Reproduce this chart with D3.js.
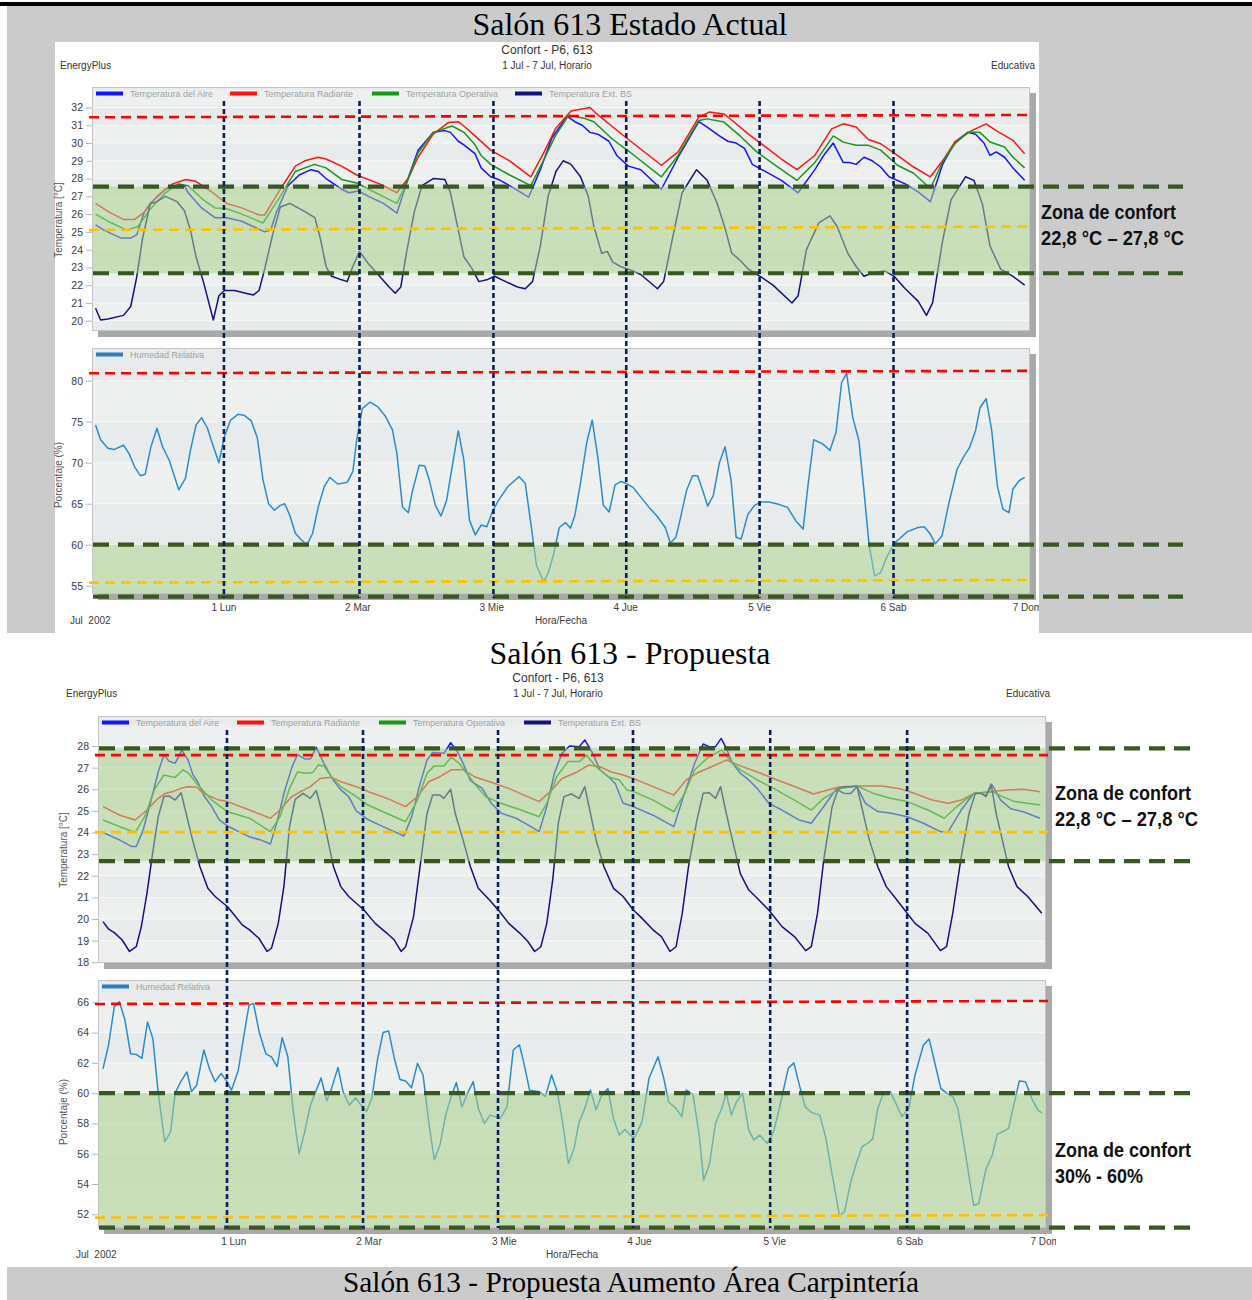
<!DOCTYPE html>
<html lang="es">
<head>
<meta charset="utf-8">
<title>Salón 613 - Confort</title>
<script src="https://cdn.jsdelivr.net/npm/d3@7/dist/d3.min.js"></script>
<style>
html,body{margin:0;padding:0;background:#fff;}
svg{display:block;}
</style>
</head>
<body>
<svg id="chart" width="1252" height="1300" xmlns="http://www.w3.org/2000/svg"></svg>
<script>
// ===================== DATA =====================
const dayLabels = ["1 Lun", "2 Mar", "3 Mie", "4 Jue", "5 Vie", "6 Sab", "7 Dom"];
const dayHours = [24, 48, 72, 96, 120, 144, 168];
const tempTicksActual = [20, 21, 22, 23, 24, 25, 26, 27, 28, 29, 30, 31, 32];
const humTicksActual = [55, 60, 65, 70, 75, 80];
const tempTicksProp = [18, 19, 20, 21, 22, 23, 24, 25, 26, 27, 28];
const humTicksProp = [52, 54, 56, 58, 60, 62, 64, 66];
const tempLegend = ["Temperatura del Aire", "Temperatura Radiante", "Temperatura Operativa", "Temperatura Ext. BS"];
const humLegend = ["Humedad Relativa"];

// hand-drawn day separators (hours)
const actualDayLines = [24, 48.3, 72.3, 96.1, 120, 144];
const propDayLines = [22.8, 46.94, 70.9, 94.85, 119.2, 143.5];

// reference lines [value at left, value at right]
const actualTempRed = [31.45, 31.58];
const actualTempYellow = [25.1, 25.3];
const actualTempComfort = [22.67, 27.55];
const actualHumRed = [80.9, 81.2];
const actualHumYellow = [55.37, 55.7];
const actualHumComfort = [53.66, 60];
const propTempRed = [27.58, 27.58];
const propTempYellow = [24.02, 24.02];
const propTempComfort = [22.68, 27.89];
const propHumRed = [65.89, 66.09];
const propHumYellow = [51.78, 51.95];
const propHumComfort = [51.12, 60];

// ---- Estado Actual: [hour, value] ----
const actualAir = [[1,25.4],[2.5,25.1],[4.5,24.8],[5.6,24.65],[7.3,24.65],[8.4,24.85],[9.7,26.1],[10.8,26.6],[13.5,27.4],[15.6,27.6],[16.9,27.6],[17.6,27.2],[20,26.35],[22.4,25.8],[24.5,25.8],[27.2,25.6],[31.3,25.0],[32.4,25.1],[33.4,26.1],[35.5,27.6],[37.5,28.2],[39.6,28.5],[40.9,28.4],[42.3,28.0],[45.1,27.4],[46.4,27.2],[48.1,27.3],[49.9,27.0],[52.6,26.6],[55,26.05],[57,28.0],[58.8,29.6],[61.5,30.6],[63.6,30.7],[64.6,30.6],[66,30.1],[67,29.9],[69,29.4],[70.1,28.6],[71.8,28.1],[73.2,27.95],[75.2,27.6],[78.6,26.95],[80.7,28.5],[82.8,30.3],[85.5,31.5],[86.9,31.2],[88.2,31.0],[89.6,30.6],[91,30.5],[93,30.1],[94.4,29.3],[96.5,28.7],[98.7,28.5],[102.4,27.4],[105.4,29.2],[109.1,31.2],[110.6,30.9],[112.8,30.4],[114.3,30.1],[115.8,30.0],[117.3,29.7],[118.7,28.8],[121,28.4],[123.9,27.9],[126.9,27.2],[129.9,28.5],[131.7,29.4],[133.2,30.0],[135,28.9],[136.1,28.9],[137.3,28.8],[138.7,29.2],[140.2,29.0],[141.7,28.65],[143.2,28.1],[146.1,27.7],[148.4,27.25],[150.6,26.7],[152.8,28.8],[155,30.05],[157.3,30.6],[158.7,30.5],[160.2,30.0],[161.3,29.3],[162.4,29.5],[163.9,29.2],[165.4,28.6],[167.5,27.9]];
const actualRad = [[1,26.6],[3.5,26.1],[6,25.7],[8,25.7],[9.7,26.1],[12,27.0],[14.8,27.7],[17.2,27.95],[18.9,27.85],[21.6,27.3],[24.5,26.6],[27.2,26.35],[30.3,25.95],[31.3,25.95],[34.1,27.4],[36.8,28.7],[38.5,29.0],[40.9,29.2],[42.3,29.1],[45.1,28.7],[47.8,28.2],[51.9,27.7],[55,27.2],[57,28.0],[58.8,29.2],[61.5,30.5],[64.2,31.15],[66,31.2],[67,30.96],[69,30.4],[71.8,29.6],[75.2,29.0],[79,28.1],[81.4,29.5],[83.4,30.8],[86.2,31.8],[89.6,32.0],[90.6,31.7],[93.7,30.9],[96.5,30.2],[102.4,28.75],[105.4,29.5],[109.1,31.46],[111,31.74],[113.6,31.64],[115.1,31.27],[118,30.5],[121,29.8],[123.9,29.1],[126.7,28.5],[129.9,29.3],[132.9,30.8],[135,31.08],[137.3,30.9],[139.5,30.2],[141.7,29.96],[144.7,29.3],[147.6,28.65],[150.6,28.1],[152.8,29.0],[155,30.06],[158,30.7],[160.6,31.08],[162.4,30.7],[165.4,30.15],[167.5,29.4]];
const actualOp = [[1,26.0],[3.2,25.6],[6.6,25.1],[8.6,25.3],[10.7,26.25],[13.5,27.2],[15.9,27.7],[17.6,27.6],[20.3,26.8],[22.4,26.35],[24.5,26.3],[27.2,26.0],[31,25.5],[34.1,27.0],[36.8,28.4],[40.2,28.8],[42.3,28.6],[45.1,27.95],[47.8,27.75],[51.2,27.2],[55,26.6],[57,27.95],[58.8,29.45],[61.5,30.6],[64.9,30.96],[67,30.6],[69,29.9],[70.1,29.3],[71.8,28.8],[75.2,28.2],[79,27.6],[81.4,29.1],[83.4,30.4],[85.8,31.57],[88.5,31.4],[90.3,31.2],[93.7,30.2],[96.5,29.55],[102.4,28.1],[105.4,29.3],[109.1,31.27],[110.6,31.36],[113.6,31.18],[116.5,30.4],[119.5,29.5],[122.4,28.84],[126.7,27.9],[129.9,28.9],[133.2,30.4],[135,30.05],[137.3,29.87],[139.5,29.87],[141.7,29.6],[144.7,28.75],[147.6,28.3],[150.6,27.44],[152.8,28.93],[155,29.96],[157.3,30.6],[159.5,30.6],[161.3,30.06],[163.9,29.78],[165.4,29.2],[167.5,28.6]];
const actualExt = [[1,20.7],[1.9,20.04],[3.2,20.1],[6,20.3],[7.3,20.8],[8.4,22.5],[9.4,24.6],[10.8,26.6],[11.8,26.67],[13.5,27.0],[15.6,26.7],[16.9,26.2],[18,25.1],[19,23.6],[20.4,22.1],[22.1,20.04],[23.1,21.4],[24.1,21.7],[25.9,21.7],[27.9,21.55],[29.3,21.45],[30.3,21.7],[31.3,22.9],[32.7,24.8],[34.1,26.4],[35.8,26.6],[38.2,26.2],[40.3,25.8],[41.3,24.6],[42.3,23.05],[43.3,22.5],[45.1,22.3],[46.1,22.2],[47.1,23.05],[48.3,23.9],[49.9,23.2],[51.9,22.5],[53.6,21.9],[54.7,21.55],[55.7,21.9],[56.7,23.8],[58.1,26.1],[59.5,27.6],[61.5,28.0],[63.6,27.95],[64.6,27.2],[65.6,25.7],[67,23.6],[68.4,22.96],[69.7,22.2],[71.1,22.3],[72.5,22.5],[74.5,22.2],[76.6,21.9],[78,21.8],[79.3,22.2],[80.7,24.2],[82.1,27.0],[83.5,28.4],[84.8,29.0],[86.2,28.8],[87.9,28.1],[89.3,27.0],[90.3,25.3],[91.7,23.8],[92.7,23.9],[93.7,23.3],[95.1,23.05],[96.5,22.9],[98.7,22.6],[101.7,21.8],[102.8,22.2],[104.3,24.5],[106.1,27.2],[108.7,28.5],[110.6,27.9],[112.4,26.6],[113.9,25.1],[115,23.8],[116.5,23.4],[118,22.9],[120.1,22.5],[122.4,22.0],[125.8,21.0],[126.9,21.4],[128.4,24.0],[130.6,25.5],[132.6,25.9],[133.9,25.3],[135.8,23.8],[137.3,23.05],[138.7,22.5],[140.2,22.7],[142.4,22.8],[144.1,22.5],[146.1,21.8],[148.4,21.1],[149.9,20.3],[151,21.0],[152.8,24.5],[154.3,26.8],[156.9,28.1],[158.4,27.9],[159.9,26.6],[161.3,24.2],[163.2,22.9],[165.4,22.5],[167.5,22.0]];
const actualHum = [[1,74.6],[1.9,72.8],[3.2,71.75],[4.3,71.6],[6,72.15],[7,71.1],[8,69.5],[9.05,68.4],[9.9,68.6],[10.9,71.9],[12,74.2],[13,71.95],[14.2,70.3],[15.9,66.7],[17.1,68.1],[18,71.5],[19,74.6],[20,75.5],[21.05,74.2],[21.7,72.8],[23.1,70.0],[24.1,73.2],[25.2,75.2],[26.5,75.9],[27.6,75.8],[28.9,75.1],[30,73.0],[31,67.9],[32,65.0],[33.05,64.2],[34.1,64.8],[34.9,65.0],[35.8,63.6],[36.8,61.4],[37.85,60.6],[38.9,60.0],[39.9,61.4],[40.9,64.6],[42,67.1],[43,68.2],[44.4,67.4],[46.1,67.6],[47.1,68.9],[47.8,72.8],[48.8,76.6],[50.2,77.4],[51.6,76.8],[52.9,75.7],[54.2,74.0],[55,71.1],[56,64.6],[57.05,63.9],[57.7,66.3],[59,69.7],[60,69.6],[60.8,67.9],[61.9,64.8],[62.9,63.5],[63.9,65.4],[64.9,69.5],[66,73.9],[67,70.3],[68,63.0],[69.05,61.2],[70.1,62.4],[71.1,62.2],[72.1,64.0],[73.2,65.4],[74.9,67.1],[76.9,68.3],[78,67.5],[79,62.6],[80,57.5],[81.3,55.5],[82.1,56.5],[83.1,58.9],[84.1,62.1],[85.2,62.7],[86.1,62.0],[86.9,63.6],[87.9,67.5],[89,72.4],[90,75.2],[91,70.7],[92,64.8],[93.05,64.0],[94.1,67.3],[95.1,67.7],[96,67.5],[97.3,67.0],[98.7,65.8],[100.2,64.55],[101.6,63.5],[103.1,62.1],[104,60.2],[105,60.9],[105.7,62.9],[106.9,66.6],[108,68.4],[108.9,68.4],[109.8,66.6],[110.7,64.7],[111.7,66.0],[112.8,70.0],[113.8,71.95],[114.9,67.8],[115.8,60.9],[116.7,60.7],[117.9,63.7],[119.1,64.8],[120.2,65.2],[121.7,65.2],[123.2,64.96],[125,64.55],[126.5,62.9],[127.8,61.9],[128.7,67.4],[129.7,72.8],[131.3,72.3],[132.6,71.5],[133.7,73.7],[134.7,79.8],[135.6,80.9],[136.7,75.5],[137.8,72.7],[138.7,66.6],[139.6,60.1],[140.6,56.2],[141.7,56.6],[142.8,58.5],[144.1,60.2],[145,60.7],[146.5,61.6],[148.4,62.1],[149.5,62.2],[150.6,61.3],[151.5,60.1],[152.7,61.1],[153.9,65.0],[155.4,69.2],[156.5,70.65],[157.6,71.8],[158.7,73.9],[159.5,76.7],[160.6,77.8],[161.6,73.9],[162.6,67.2],[163.6,64.35],[164.7,63.9],[165.4,66.8],[166.5,67.8],[167.5,68.2]];

// ---- Propuesta: [hour, value] ----
const propAir = [[0.8,24.0],[3.8,23.65],[5.9,23.35],[6.7,23.35],[7.9,24.1],[9.2,25.35],[10.6,26.8],[11.6,27.6],[12.5,27.3],[13.6,27.2],[14.8,27.8],[15.9,27.35],[16.7,26.7],[17.7,26.3],[18.7,25.7],[20.1,25.2],[21.4,24.6],[22.9,24.3],[24.8,24.05],[26.8,23.8],[28.85,23.65],[30.5,23.47],[31.6,24.4],[32.9,25.8],[34.3,27.0],[35.3,27.6],[36.6,27.4],[37.6,27.4],[38.65,27.94],[40,27.2],[41.7,26.4],[43,25.97],[44.4,25.66],[45.75,25.0],[47.8,24.6],[50.5,24.27],[52.5,24.04],[54.2,23.84],[55.55,24.7],[56.9,26.1],[58.3,27.35],[59.3,27.7],[61.3,27.66],[62.5,28.15],[63.7,27.74],[64.7,27.2],[66,26.4],[68.1,26.04],[69.7,25.35],[71.4,24.9],[74.1,24.66],[76.2,24.35],[78.2,24.04],[79.55,25.2],[80.9,26.74],[82.25,27.66],[83.6,28.0],[85.3,27.97],[86.3,28.28],[87.7,27.66],[89,26.9],[90.4,26.6],[91.7,26.27],[93.1,25.35],[94.9,25.2],[98.4,24.8],[102.1,24.27],[103.6,25.5],[105.8,27.2],[107.3,28.09],[108.4,27.97],[109.5,27.97],[110.5,28.35],[111.4,27.9],[112.5,27.2],[113.9,26.74],[115.4,26.43],[116.9,26.04],[118.95,25.35],[121.3,25.04],[124.3,24.58],[126.5,24.43],[128.7,25.2],[130.9,26.0],[132.4,25.8],[133.5,25.8],[134.6,26.12],[136.1,25.35],[138.3,24.97],[140.5,24.9],[143.5,24.73],[146.4,24.43],[149.4,24.04],[150.8,24.04],[153.1,25.04],[155.3,25.8],[156.7,25.8],[157.5,25.7],[158.6,26.2],[160.1,25.5],[161.9,25.1],[164.1,24.96],[167.1,24.66]];
const propRad = [[0.8,25.2],[3.8,24.8],[6.5,24.58],[8.6,25.04],[10.6,25.58],[11.8,25.8],[13.3,25.9],[14.65,26.04],[15.7,26.12],[17.4,26.1],[18.7,25.8],[21.4,25.5],[22.9,25.43],[26.8,25.04],[30.5,24.66],[32.2,25.04],[34.3,25.66],[35.95,25.9],[37.6,26.12],[39.3,26.5],[41.35,26.55],[43,26.35],[45.75,26.12],[47.8,25.9],[51.2,25.58],[54.5,25.2],[56.6,25.66],[58.6,26.35],[60.6,26.58],[62.6,26.9],[64.7,26.9],[66.7,26.58],[69.4,26.35],[72.8,26.04],[75.5,25.73],[78.2,25.43],[80.2,25.9],[82.25,26.5],[84.95,26.8],[87,27.12],[89,27.04],[91,26.8],[93.1,26.66],[94.9,26.5],[98.4,26.12],[102.1,25.73],[104.3,26.43],[106.6,26.8],[108.8,27.04],[111.4,27.35],[113.9,27.08],[116.9,26.8],[119.8,26.5],[122.8,26.2],[126.9,25.78],[129.4,25.97],[131.65,26.12],[134.6,26.15],[139,26.15],[142,26.04],[144.9,25.8],[147.9,25.5],[150.8,25.35],[153.1,25.5],[155.3,25.8],[158.2,25.89],[161.2,25.97],[164.1,26.0],[167.1,25.89]];
const propOp = [[0.8,24.58],[3.8,24.27],[6.5,24.0],[8.2,24.73],[9.9,25.97],[11.6,26.66],[12.96,26.58],[13.6,26.55],[15,26.9],[16,26.74],[17.4,26.27],[18.7,25.9],[20.1,25.5],[22.9,24.96],[26.8,24.66],[30.5,24.04],[32.2,24.73],[33.9,26.04],[35.3,26.8],[36.95,26.74],[38,26.77],[39,27.12],[40,27.08],[41.35,26.58],[43,26.12],[45.75,25.66],[47.8,25.27],[50.5,24.96],[54.5,24.5],[56.6,25.5],[58.3,26.74],[59.6,27.08],[61.3,27.08],[62.6,27.48],[64,27.2],[65.35,26.74],[66.7,26.27],[68.7,25.66],[71.4,25.35],[74.1,25.12],[78.2,24.73],[79.55,25.35],[81.3,26.58],[83.3,27.28],[85.3,27.28],[86.6,27.58],[88.3,27.04],[90.4,26.58],[92.4,26.43],[93.75,25.97],[94.9,25.9],[98.4,25.5],[102.1,24.96],[104,25.8],[105.8,26.9],[108,27.43],[109.5,27.66],[110.6,27.82],[112.5,27.2],[113.9,26.9],[116.9,26.43],[119.8,26.04],[123.5,25.5],[126.5,25.04],[128.7,25.58],[131.65,26.04],[134.6,26.15],[137.6,25.8],[140.5,25.58],[143.5,25.43],[147.2,25.04],[150.1,24.66],[152.3,25.2],[155.3,25.8],[158.6,25.89],[160.4,25.66],[162.6,25.43],[167.1,25.27]];
const propExt = [[0.8,19.88],[1.8,19.53],[2.8,19.37],[4.2,19.03],[5.5,18.5],[6.7,18.72],[7.6,19.65],[8.6,21.19],[9.6,23.04],[10.6,24.73],[11.6,25.66],[12.5,25.69],[13.6,25.5],[14.65,25.84],[15.7,24.73],[16.7,23.65],[18,22.42],[19.4,21.42],[20.7,21.04],[22.9,20.57],[24.1,20.19],[25.5,19.73],[26.8,19.5],[28.5,19.1],[29.9,18.5],[30.7,18.65],[31.9,19.8],[32.9,21.5],[33.9,24.27],[34.9,25.53],[36.3,25.81],[37.6,25.58],[38.65,25.94],[39.7,24.89],[40.7,23.65],[41.7,22.42],[43,21.5],[44.4,21.04],[45.75,20.73],[47.1,20.42],[49.1,19.8],[51.2,19.34],[52.5,19.03],[53.7,18.5],[54.5,18.72],[55.9,20.1],[56.9,22.1],[58.3,24.89],[59.3,25.73],[60.6,25.73],[61.3,25.58],[62.5,26.0],[63.3,24.89],[64.7,23.65],[66,22.42],[67.4,21.42],[69.4,20.88],[71.2,20.34],[72.8,19.8],[74.8,19.34],[76.2,18.96],[77.4,18.5],[78.5,18.72],[79.55,19.8],[80.6,21.8],[81.6,24.43],[82.6,25.66],[83.9,25.78],[85.3,25.58],[86.3,26.12],[87.3,24.89],[88.3,23.65],[89.7,22.42],[91.4,21.42],[93.1,21.04],[94.9,20.42],[96.2,20.1],[98.4,19.5],[99.9,19.19],[101.4,18.5],[102.5,18.72],[103.6,20.27],[104.7,22.42],[106.2,24.58],[107.3,25.81],[108.4,25.84],[109.5,25.58],[110.4,26.12],[111.4,24.89],[112.5,23.65],[113.9,22.1],[115.4,21.34],[116.9,20.96],[118.95,20.42],[121.3,19.65],[123.5,19.19],[125.5,18.54],[126.5,18.72],[127.6,20.27],[128.7,22.73],[130.2,25.2],[131.3,26.04],[132.4,26.12],[133.5,26.12],[134.6,26.15],[135.7,24.89],[136.8,23.65],[138.3,22.42],[139.8,21.5],[141.2,21.04],[143.3,20.34],[144.9,19.8],[147.2,19.34],[149.4,18.54],[150.5,18.72],[151.6,20.27],[153.1,22.88],[154.5,24.89],[155.6,25.81],[156.7,25.81],[157.5,25.66],[158.4,26.24],[159.3,24.89],[160.4,23.65],[161.5,22.42],[163,21.5],[164.9,21.04],[167.4,20.27]];
const propHum = [[0.8,61.6],[1.8,63.2],[2.8,65.7],[3.7,66.04],[4.65,64.9],[5.7,62.6],[6.7,62.56],[7.7,62.3],[8.7,64.7],[9.65,63.6],[10.6,60.0],[11.75,56.8],[12.8,57.45],[13.6,60.0],[14.65,60.8],[15.7,61.4],[16.5,60.1],[17.4,60.5],[18.7,62.85],[19.7,61.6],[20.7,60.76],[21.75,61.3],[22.8,60.76],[23.6,60.2],[24.8,61.5],[25.8,63.8],[26.7,65.8],[27.5,65.93],[28.5,64.06],[29.7,62.6],[30.7,62.4],[31.7,61.75],[32.6,63.66],[33.6,62.4],[34.6,58.67],[35.6,56.0],[36.6,57.45],[37.6,59.2],[38.65,60.2],[39.5,61.0],[40.5,59.5],[41.35,60.3],[42.5,61.7],[43.4,60.1],[44.5,59.2],[45.6,59.7],[46.6,59.2],[47.6,58.8],[48.5,59.66],[49.5,62.2],[50.5,64.0],[51.5,64.1],[52.5,62.3],[53.5,60.9],[54.5,60.8],[55.55,60.36],[56.6,61.97],[57.6,61.2],[58.6,58.1],[59.6,55.6],[60.6,56.57],[61.6,58.55],[62.6,59.77],[63.5,60.7],[64.5,59.1],[65.5,60.0],[66.5,60.76],[67.4,59.0],[68.5,58.0],[69.5,58.55],[70.4,58.45],[71.3,58.33],[72.5,59.1],[73.6,62.85],[74.7,63.2],[75.5,61.97],[76.5,60.2],[78.2,60.1],[79.3,59.77],[80.4,61.2],[81.4,60.1],[82.25,58.33],[83.4,55.36],[84.4,56.35],[85.3,58.1],[86.3,59.0],[87.3,60.2],[88.3,58.9],[89.35,59.9],[90.4,60.3],[91.4,58.33],[92.4,57.23],[93.4,57.6],[94.4,57.23],[95.1,57.05],[96.45,58.1],[97.7,60.98],[99.3,62.4],[100.3,61.0],[101.2,59.4],[102.5,59.0],[103.5,58.45],[104.3,60.2],[105.5,59.9],[106.6,57.23],[107.4,54.26],[108.4,55.25],[109.5,58.0],[110.6,59.0],[111.4,60.0],[112.3,58.55],[113.2,59.4],[114.3,60.0],[115.4,57.56],[116.3,56.9],[117.3,57.23],[118.7,56.68],[119.8,57.45],[120.95,59.2],[122.4,61.64],[123.4,62.0],[124.3,60.65],[125.4,59.1],[126.5,58.73],[128,58.55],[129.1,57.0],[130.2,54.6],[131.5,51.9],[132.4,52.17],[133.5,54.15],[134.6,55.5],[135.5,56.46],[136.5,56.68],[137.4,57.0],[138.3,59.0],[139.4,60.1],[140.5,60.1],[141.4,59.4],[142.6,58.45],[143.8,59.0],[144.9,61.2],[146.4,63.18],[147.4,63.58],[148.5,61.86],[149.5,60.3],[150.5,60.0],[151.6,59.77],[152.5,59.0],[153.8,56.13],[155.3,52.6],[156.2,52.7],[157.5,55.0],[158.6,55.9],[159.5,57.3],[160.4,57.45],[161.5,57.67],[162.3,59.0],[163.4,60.8],[164.5,60.76],[165.6,59.66],[166.7,58.9],[167.4,58.67]];

// ===================== STYLE =====================
const FONT = "'Liberation Sans', Arial, Helvetica, sans-serif";
const SERIF = "'Liberation Serif', 'Times New Roman', serif";
const NARROW = "'Liberation Sans Narrow', 'Arial Narrow', 'Liberation Sans', Arial, sans-serif";
const PAGE_GRAY = "#cbcbcb";
const C_AIR = "#1414ff", C_RAD = "#ff1414", C_OP = "#159a15", C_EXT = "#13137c", C_HUM = "#2a8ccb";
const C_REF_RED = "#ff0000", C_REF_YEL = "#ffc000", C_DKGREEN = "#385723", C_NAVY = "#0b1f5e";

const svg = d3.select("#chart");
const defs = svg.append("defs");
let clipN = 0;
function clipRect(x, y, w, h) {
  const id = "clip" + (clipN++);
  defs.append("clipPath").attr("id", id).append("rect")
    .attr("x", x).attr("y", y).attr("width", w).attr("height", h);
  return "url(#" + id + ")";
}
function txt(g, x, y, s, size, opts) {
  opts = opts || {};
  const t = g.append("text").attr("x", x).attr("y", y).text(s)
    .style("font-family", opts.family || FONT).style("font-size", size + "px")
    .attr("fill", opts.fill || "#333").attr("text-anchor", opts.anchor || "start");
  if (opts.weight) t.style("font-weight", opts.weight);
  if (opts.len) t.attr("textLength", opts.len).attr("lengthAdjust", "spacingAndGlyphs");
  return t;
}
function seg(g, x1, x2, y1, y2, color, w, dash) {
  return g.append("line").attr("x1", x1).attr("x2", x2).attr("y1", y1).attr("y2", y2)
    .attr("stroke", color).attr("stroke-width", w).attr("stroke-dasharray", dash);
}

// ===================== PAGE =====================
svg.append("rect").attr("width", 1252).attr("height", 1300).attr("fill", "#fff");
svg.append("rect").attr("x", 7).attr("y", 6).attr("width", 1245).attr("height", 627).attr("fill", PAGE_GRAY);
svg.append("rect").attr("x", 0).attr("y", 2).attr("width", 1252).attr("height", 4).attr("fill", "#000");
svg.append("rect").attr("x", 55).attr("y", 42).attr("width", 984).attr("height", 591).attr("fill", "#fff");
svg.append("rect").attr("x", 7).attr("y", 1267).attr("width", 1245).attr("height", 33).attr("fill", PAGE_GRAY);

txt(svg, 630, 35, "Salón 613 Estado Actual", 31, {family: SERIF, fill: "#000", anchor: "middle", len: 315});
txt(svg, 630, 664, "Salón 613 - Propuesta", 31, {family: SERIF, fill: "#000", anchor: "middle", len: 281});
txt(svg, 631, 1292, "Salón 613 - Propuesta Aumento Área Carpintería", 30, {family: SERIF, fill: "#000", anchor: "middle", len: 576});

// ===================== CHART DRAWING =====================
function drawPlot(c, p) {
  const L = c.left, R = c.right, T = p.top, B = p.bottom;
  const g = svg.append("g");
  g.append("rect").attr("x", L + 6).attr("y", T + 6).attr("width", R - L).attr("height", B - T).attr("fill", "#a9a9a9");
  g.append("rect").attr("x", L).attr("y", T).attr("width", R - L).attr("height", B - T).attr("fill", "#eef0f0");
  const clip = clipRect(L, T, R - L, B - T);
  const bg = g.append("g").attr("clip-path", clip);
  const t = p.ticks, step = t[1] - t[0];
  for (let i = -1; i <= t.length; i++) {
    if (i % 2 === 0) continue;
    const v0 = t[0] + i * step, v1 = v0 + step;
    bg.append("rect").attr("x", L).attr("width", R - L)
      .attr("y", p.y(v1)).attr("height", p.y(v0) - p.y(v1)).attr("fill", "#e8ebeb");
  }
  t.forEach(v => bg.append("line").attr("x1", L).attr("x2", R).attr("y1", p.y(v)).attr("y2", p.y(v))
    .attr("stroke", "#f7f8f8").attr("stroke-width", 1));

  // y axis
  const ax = d3.axisLeft(p.y).tickValues(t).tickSize(6).tickPadding(3).tickFormat(d3.format("d"));
  const axg = g.append("g").attr("transform", "translate(" + L + ",0)").call(ax);
  axg.select(".domain").remove();
  axg.selectAll(".tick line").attr("stroke", "#b8b8b8");
  axg.selectAll(".tick text").attr("fill", "#3c3c3c").style("font-family", FONT).style("font-size", "10.5px");

  // series
  const line = d3.line().x(d => c.x(d[0])).y(d => p.y(d[1]));
  const sg = g.append("g").attr("clip-path", clip);
  p.series.forEach(s => sg.append("path").datum(s.data).attr("d", line)
    .attr("fill", "none").attr("stroke", s.color).attr("stroke-width", 1.5).attr("stroke-linejoin", "round"));

  // comfort zone overlay
  sg.append("rect").attr("x", L).attr("width", R - L)
    .attr("y", p.y(p.comfort[1])).attr("height", p.y(p.comfort[0]) - p.y(p.comfort[1]))
    .attr("fill", "#a9d18e").attr("fill-opacity", 0.55);

  // frame
  g.append("rect").attr("x", L + 0.5).attr("y", T + 0.5).attr("width", R - L - 1).attr("height", B - T - 1)
    .attr("fill", "none").attr("stroke", "#c4c4c4");

  // legend
  p.series.forEach((s, i) => {
    const sx = L + c.legendOffsets[i];
    g.append("line").attr("x1", sx).attr("x2", sx + 27).attr("y1", T + 6.5).attr("y2", T + 6.5)
      .attr("stroke", s.legendColor || s.color).attr("stroke-width", 4);
    txt(g, sx + 34, T + 9.5, s.label, 9, {fill: "#a2a2a2"});
  });

  // reference lines
  seg(g, L - 3, R + 2, p.y(p.red[0]), p.y(p.red[1]), C_REF_RED, 2.6, "10,6");
  seg(g, L - 3, R + 2, p.y(p.yellow[0]), p.y(p.yellow[1]), C_REF_YEL, 2.6, "10,6");
  p.comfort.forEach(v => seg(g, L + 1, c.dashEnd, p.y(v), p.y(v), C_DKGREEN, 4.2, "16,9"));

  // y title
  txt(g, 0, 0, p.title, 10, {fill: "#555", anchor: "middle"})
    .attr("transform", "translate(" + c.yTitleX + "," + p.titleY + ") rotate(-90)");
}

function drawChart(c) {
  // header
  txt(svg, c.confortX, c.confortY, "Confort - P6, 613", 12, {fill: "#333", anchor: "middle"});
  txt(svg, c.confortX, c.subY, "1 Jul - 7 Jul, Horario", 10, {fill: "#333", anchor: "middle"});
  txt(svg, c.epX, c.subY, "EnergyPlus", 10, {fill: "#333"});
  txt(svg, c.eduX, c.subY, "Educativa", 10, {fill: "#333", anchor: "end"});

  drawPlot(c, c.temp);
  drawPlot(c, c.hum);

  // x labels
  const xl = svg.append("g").attr("clip-path", clipRect(c.labelClip[0], c.xLabelY - 15, c.labelClip[1] - c.labelClip[0], 40));
  xl.selectAll("text").data(dayHours).enter().append("text")
    .attr("x", d => c.x(d)).attr("y", c.xLabelY).attr("text-anchor", "middle")
    .style("font-family", FONT).style("font-size", "10px").attr("fill", "#3c3c3c")
    .text((d, i) => dayLabels[i]);
  txt(svg, c.julX, c.footY, "Jul  2002", 10, {fill: "#3c3c3c"}).attr("xml:space", "preserve").style("white-space", "pre");
  txt(svg, c.horaX, c.footY, "Hora/Fecha", 10, {fill: "#3c3c3c", anchor: "middle"});

  // day separator lines
  const vg = svg.append("g");
  c.dayLines.forEach(h => seg(vg, c.x(h), c.x(h), c.vTop, c.vBottom, C_NAVY, 2.6, "5,3"));

  // comfort annotations
  c.notes.forEach(n => txt(svg, n.x, n.y, n.t, 20, {family: NARROW, weight: "bold", fill: "#111", len: n.w}));
}

function tempSeries(air, rad, op, ext) {
  return [
    {data: air, color: C_AIR, label: tempLegend[0]},
    {data: rad, color: C_RAD, label: tempLegend[1]},
    {data: op, color: C_OP, label: tempLegend[2]},
    {data: ext, color: C_EXT, label: tempLegend[3]}
  ];
}

// ---- Chart 1: Estado Actual ----
drawChart({
  x: d3.scaleLinear().domain([0, 168]).range([90, 90 + 5.58 * 168]),
  left: 92, right: 1030, dashEnd: 1183, legendOffsets: [4, 138, 280, 423],
  temp: {top: 87, bottom: 331, y: d3.scaleLinear().domain([20, 32]).range([320.7, 107.5]),
    ticks: tempTicksActual, series: tempSeries(actualAir, actualRad, actualOp, actualExt),
    red: actualTempRed, yellow: actualTempYellow, comfort: actualTempComfort,
    title: "Temperatura [°C]", titleY: 220},
  hum: {top: 348, bottom: 594, y: d3.scaleLinear().domain([55, 80]).range([585.7, 380.7]),
    ticks: humTicksActual, series: [{data: actualHum, color: C_HUM, legendColor: "#2e7fbf", label: humLegend[0]}],
    red: actualHumRed, yellow: actualHumYellow, comfort: actualHumComfort,
    title: "Porcentaje (%)", titleY: 475},
  yTitleX: 62,
  confortX: 547, confortY: 54, subY: 69, epX: 60, eduX: 1035,
  xLabelY: 611, footY: 624, julX: 70, horaX: 561, labelClip: [55, 1039],
  dayLines: actualDayLines, vTop: 101, vBottom: 598,
  notes: [{x: 1041, y: 219, t: "Zona de confort", w: 135}, {x: 1041, y: 245, t: "22,8 °C – 27,8 °C", w: 143}]
});

// ---- Chart 2: Propuesta ----
drawChart({
  x: d3.scaleLinear().domain([0, 168]).range([98.5, 98.5 + 5.635 * 168]),
  left: 98, right: 1046, dashEnd: 1199, legendOffsets: [4, 139, 281, 426],
  temp: {top: 716, bottom: 963, y: d3.scaleLinear().domain([18, 28]).range([962.3, 746]),
    ticks: tempTicksProp, series: tempSeries(propAir, propRad, propOp, propExt),
    red: propTempRed, yellow: propTempYellow, comfort: propTempComfort,
    title: "Temperatura [°C]", titleY: 850},
  hum: {top: 980, bottom: 1228, y: d3.scaleLinear().domain([52, 66]).range([1214.3, 1002.3]),
    ticks: humTicksProp, series: [{data: propHum, color: C_HUM, legendColor: "#2e7fbf", label: humLegend[0]}],
    red: propHumRed, yellow: propHumYellow, comfort: propHumComfort,
    title: "Porcentaje (%)", titleY: 1112},
  yTitleX: 67,
  confortX: 558, confortY: 682, subY: 697, epX: 66, eduX: 1050,
  xLabelY: 1245, footY: 1258, julX: 76, horaX: 572, labelClip: [60, 1056],
  dayLines: propDayLines, vTop: 730, vBottom: 1228,
  notes: [{x: 1055, y: 800, t: "Zona de confort", w: 136}, {x: 1055, y: 826, t: "22,8 °C – 27,8 °C", w: 143},
          {x: 1055, y: 1157, t: "Zona de confort", w: 136}, {x: 1055, y: 1183, t: "30% - 60%", w: 88}]
});
</script>
</body>
</html>
